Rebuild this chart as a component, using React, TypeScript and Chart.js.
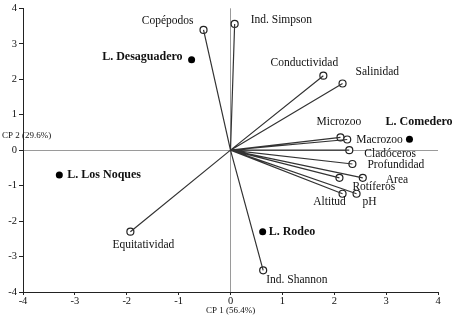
import React, { useEffect, useRef } from "react";
import { Chart, registerables } from "chart.js";

Chart.register(...registerables);

// ---- data ----
const variableNames = [
  "Copépodos", "Ind. Simpson", "Conductividad", "Salinidad", "Microzoo", "Macrozoo",
  "Cladóceros", "Profundidad", "Area", "Rotíferos", "pH", "Altitud", "Ind. Shannon", "Equitatividad",
];
const variableCP1 = [-0.52, 0.08, 1.79, 2.16, 2.12, 2.25, 2.29, 2.35, 2.55, 2.1, 2.43, 2.16, 0.63, -1.93];
const variableCP2 = [3.39, 3.56, 2.1, 1.88, 0.36, 0.3, 0.0, -0.39, -0.78, -0.78, -1.23, -1.23, -3.39, -2.3];

const lakeNames = ["L. Desaguadero", "L. Comedero", "L. Rodeo", "L. Los Noques"];
const lakeCP1 = [-0.75, 3.45, 0.62, -3.3];
const lakeCP2 = [2.55, 0.31, -2.3, -0.7];

const axisTicks = [-4, -3, -2, -1, 0, 1, 2, 3, 4];
const xTitle = "CP 1 (56.4%)";
const yTitle = "CP 2 (29.6%)";

// ---- label placement (style) ----
type Place = [number, number, CanvasTextAlign];
const variableLabelPlace: Place[] = [
  [-10, -9, "right"], [16, -4, "left"], [-19, -13, "center"], [13, -11, "left"],
  [-24, -15, "left"], [9, 0, "left"], [15, 4, "left"], [15, 1, "left"],
  [23, 2, "left"], [13, 9, "left"], [13, 8, "center"], [-13, 8, "center"],
  [3, 10, "left"], [13, 13, "center"],
];
const lakeLabelPlace: Place[] = [
  [-9, -3, "right"], [-24, -17, "left"], [6, 0, "left"], [8, 0, "left"],
];

const SERIF = "'Liberation Serif', 'DejaVu Serif', serif";

export default function App() {
  const ref = useRef<HTMLCanvasElement>(null);
  useEffect(() => {
    document.body.style.margin = "0";
    const vectorData: any[] = [];
    variableCP1.forEach((x, i) => {
      vectorData.push({ x: 0, y: 0 }, { x, y: variableCP2[i] }, { x: NaN, y: NaN });
    });
    const labelPlugin = {
      id: "labels",
      afterDatasetsDraw(chart: any) {
        const { ctx, scales } = chart;
        const xs = scales.x, ys = scales.y;
        ctx.save();
        ctx.fillStyle = "#111";
        ctx.textBaseline = "middle";
        ctx.font = `11.5px ${SERIF}`;
        variableNames.forEach((n, i) => {
          const [dx, dy, al] = variableLabelPlace[i];
          ctx.textAlign = al;
          ctx.fillText(n, xs.getPixelForValue(variableCP1[i]) + dx, ys.getPixelForValue(variableCP2[i]) + dy);
        });
        ctx.font = `bold 12px ${SERIF}`;
        lakeNames.forEach((n, i) => {
          const [dx, dy, al] = lakeLabelPlace[i];
          ctx.textAlign = al;
          ctx.fillText(n, xs.getPixelForValue(lakeCP1[i]) + dx, ys.getPixelForValue(lakeCP2[i]) + dy);
        });
        ctx.font = `9px ${SERIF}`;
        ctx.textAlign = "left";
        ctx.fillText(yTitle, 2, ys.getPixelForValue(0) - 15);
        ctx.textAlign = "center";
        ctx.fillText(xTitle, xs.getPixelForValue(0), 311);
        ctx.restore();
      },
    };
    const gridColor = (c: any) => (c.tick && c.tick.value === 0 ? "#9a9a9a" : "rgba(0,0,0,0)");
    const chart = new Chart(ref.current!, {
      type: "scatter",
      data: {
        datasets: [
          {
            data: vectorData,
            showLine: true,
            spanGaps: false,
            borderColor: "#333",
            borderWidth: 1.2,
            pointRadius: 0,
          },
          {
            data: variableCP1.map((x, i) => ({ x, y: variableCP2[i] })),
            pointRadius: 3.5,
            pointBackgroundColor: "#fff",
            pointBorderColor: "#222",
            pointBorderWidth: 1.2,
          },
          {
            data: lakeCP1.map((x, i) => ({ x, y: lakeCP2[i] })),
            pointRadius: 3.5,
            pointBackgroundColor: "#000",
            pointBorderColor: "#000",
            pointBorderWidth: 0,
          },
        ] as any,
      },
      options: {
        responsive: false,
        animation: false,
        events: [],
        layout: { padding: { top: 6, right: 14, left: 0, bottom: 0 } },
        plugins: { legend: { display: false }, tooltip: { enabled: false } },
        scales: {
          x: {
            type: "linear",
            min: -4,
            max: 4,
            afterFit: (s: any) => { s.height = 24; },
            afterBuildTicks: (s: any) => { s.ticks = axisTicks.map((v) => ({ value: v })); },
            ticks: { font: { family: SERIF, size: 10.5 }, color: "#111", padding: 0 },
            grid: { color: gridColor, tickColor: "#222", tickLength: 3, lineWidth: 1 },
            border: { display: true, color: "#222", width: 1 },
          },
          y: {
            type: "linear",
            min: -4,
            max: 4,
            afterFit: (s: any) => { s.width = 23; },
            afterBuildTicks: (s: any) => { s.ticks = axisTicks.map((v) => ({ value: v })); },
            ticks: { font: { family: SERIF, size: 10.5 }, color: "#111", padding: 2 },
            grid: { color: gridColor, tickColor: "#222", tickLength: 4, lineWidth: 1 },
            border: { display: true, color: "#222", width: 1 },
          },
        },
      } as any,
      plugins: [labelPlugin],
    });
    return () => chart.destroy();
  }, []);
  return <canvas ref={ref} width={452} height={316} style={{ display: "block" }} />;
}
